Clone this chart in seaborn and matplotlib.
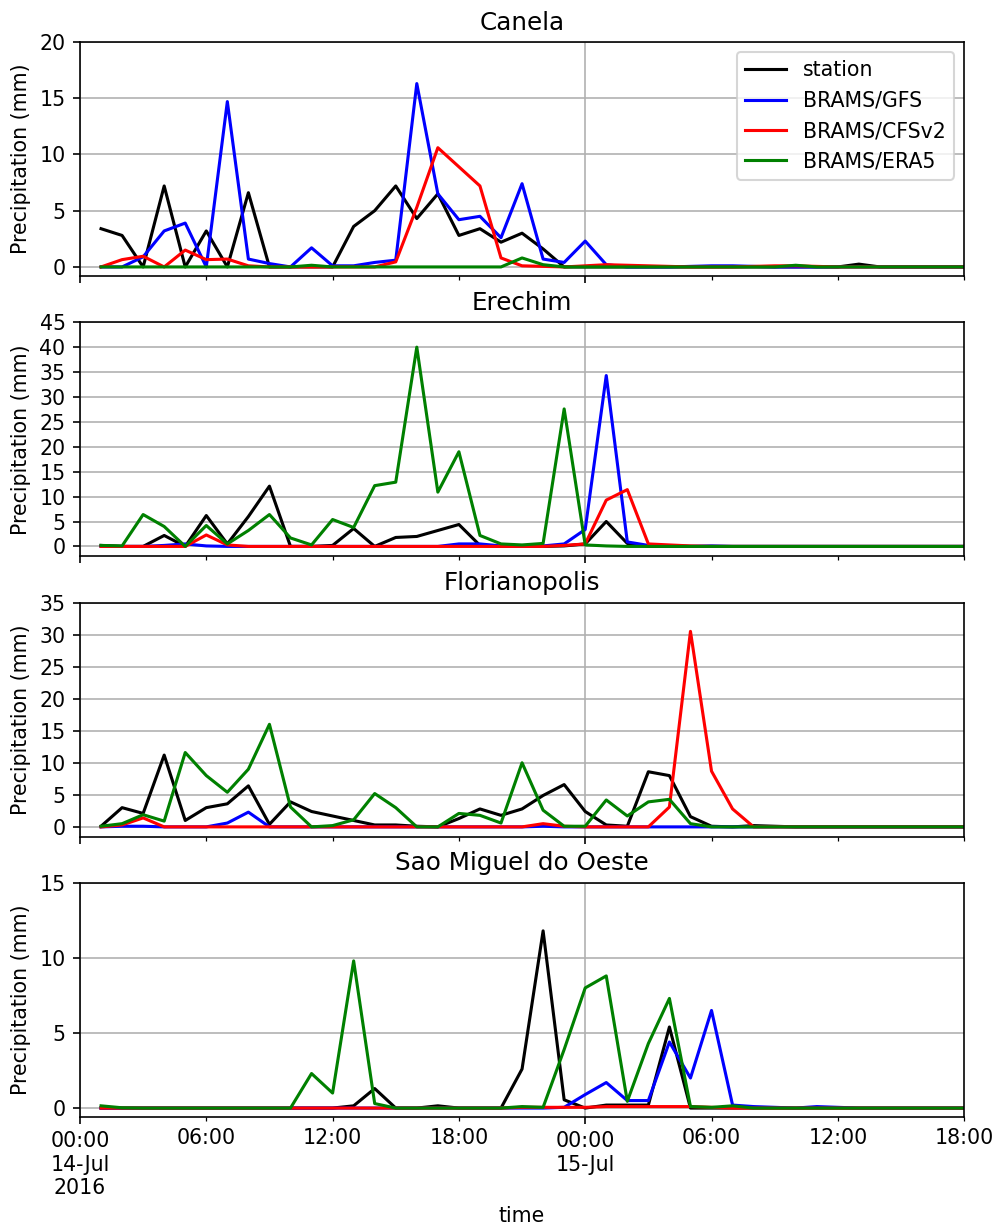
import numpy as np
import pandas as pd
import matplotlib
matplotlib.use("Agg")
import matplotlib.pyplot as plt
import matplotlib.dates as mdates
from matplotlib.ticker import FixedLocator, FixedFormatter
import seaborn as sns

# ---------------- data (hourly, 14-Jul 01:00 .. 15-Jul 18:00) ----------------
times = pd.date_range("2016-07-14 01:00", periods=42, freq="h")

series_names = ["station", "BRAMS/GFS", "BRAMS/CFSv2", "BRAMS/ERA5"]
series_colors = ["black", "blue", "red", "green"]

sites = ["Canela", "Erechim", "Florianopolis", "Sao Miguel do Oeste"]
y_tops = [20, 45, 35, 15]

canela_station = [3.4, 2.8, 0, 7.2, 0, 3.2, 0, 6.6, 0, 0, 0, 0, 3.6, 5.0, 7.2, 4.3, 6.5, 2.8, 3.4, 2.2, 3.0,
                  1.6, 0, 0, 0, 0, 0, 0, 0, 0, 0, 0, 0, 0, 0, 0, 0.25, 0, 0, 0, 0, 0]
canela_gfs = [0, 0, 0.9, 3.2, 3.9, 0, 14.7, 0.7, 0.3, 0, 1.7, 0.1, 0.1, 0.4, 0.6, 16.3, 6.5, 4.2, 4.5, 2.6, 7.4,
              0.7, 0.4, 2.3, 0.2, 0, 0, 0, 0.05, 0.1, 0.1, 0.05, 0, 0, 0, 0, 0, 0, 0, 0, 0, 0]
canela_cfs = [0, 0.65, 0.95, 0, 1.5, 0.65, 0.7, 0.1, 0, 0, 0, 0, 0, 0, 0.45, 5.3, 10.6, 8.9, 7.2, 0.8, 0.1,
              0.05, 0, 0.1, 0.2, 0.15, 0.1, 0.05, 0, 0, 0, 0.05, 0.1, 0.1, 0.05, 0, 0, 0, 0, 0, 0, 0]
canela_era5 = [0, 0, 0, 0, 0, 0, 0, 0, 0, 0, 0.15, 0, 0, 0, 0, 0, 0, 0, 0, 0, 0.8,
               0.2, 0, 0, 0, 0, 0, 0, 0, 0, 0, 0, 0, 0.15, 0, 0, 0, 0, 0, 0, 0, 0]

erechim_station = [0.2, 0, 0, 2.2, 0, 6.2, 0.5, 6.0, 12.1, 0, 0, 0.2, 3.6, 0, 1.8, 2.0, 3.2, 4.4, 0.2, 0, 0,
                   0, 0.1, 0.5, 5.0, 0.6, 0, 0, 0, 0, 0, 0, 0, 0, 0, 0, 0, 0, 0, 0, 0, 0]
erechim_gfs = [0, 0, 0, 0.2, 0.5, 0.1, 0, 0, 0, 0, 0, 0, 0, 0, 0, 0, 0, 0.5, 0.5, 0.1, 0,
               0.1, 0.5, 3.4, 34.3, 0.9, 0.2, 0.1, 0, 0.1, 0, 0, 0, 0, 0, 0, 0, 0, 0, 0, 0, 0]
erechim_cfs = [0, 0, 0, 0, 0, 2.3, 0.3, 0, 0, 0, 0, 0, 0, 0, 0, 0, 0, 0, 0, 0, 0,
               0, 0.2, 0.5, 9.3, 11.4, 0.5, 0.3, 0.1, 0, 0, 0, 0, 0, 0, 0, 0, 0, 0, 0, 0, 0]
erechim_era5 = [0.2, 0.1, 6.4, 4.0, 0, 4.2, 0.5, 3.2, 6.4, 1.7, 0.3, 5.4, 3.8, 12.2, 12.9, 40.0, 10.9, 19.0, 2.2,
                0.5, 0.3, 0.6, 27.6, 0.3, 0.1, 0, 0, 0, 0, 0, 0, 0, 0, 0, 0, 0, 0, 0, 0, 0, 0, 0]

flori_station = [0.1, 3.0, 2.1, 11.2, 1.0, 3.0, 3.6, 6.4, 0.4, 3.9, 2.4, 1.7, 1.0, 0.3, 0.3, 0.1, 0, 1.3, 2.8,
                 1.8, 2.8, 4.9, 6.6, 2.4, 0.3, 0.1, 8.6, 8.0, 1.6, 0.1, 0, 0.2, 0.1, 0, 0, 0, 0, 0, 0, 0, 0, 0]
flori_gfs = [0, 0.1, 0.1, 0, 0, 0, 0.6, 2.3, 0, 0, 0, 0, 0, 0, 0, 0, 0, 0, 0, 0, 0,
             0.1, 0, 0, 0, 0, 0, 0, 0, 0, 0, 0, 0, 0, 0, 0, 0, 0, 0, 0, 0, 0]
flori_cfs = [0, 0.3, 1.4, 0, 0, 0, 0, 0, 0, 0, 0, 0, 0, 0, 0, 0, 0, 0, 0, 0, 0,
             0.5, 0.1, 0, 0, 0, 0, 3.1, 30.5, 8.7, 2.8, 0, 0, 0, 0, 0, 0, 0, 0, 0, 0, 0]
flori_era5 = [0.1, 0.5, 1.9, 0.9, 11.6, 8.0, 5.4, 9.0, 16.0, 3.1, 0, 0.2, 1.1, 5.2, 3.0, 0, 0, 2.1, 1.8, 0.6,
              10.0, 2.6, 0.1, 0.1, 4.2, 1.7, 3.9, 4.3, 0.5, 0, 0, 0, 0, 0, 0, 0, 0, 0, 0, 0, 0, 0]

smo_station = [0, 0, 0, 0, 0, 0, 0, 0, 0, 0, 0, 0, 0.15, 1.3, 0, 0, 0.15, 0, 0, 0, 2.6,
               11.8, 0.55, 0, 0.2, 0.2, 0.2, 5.4, 0, 0, 0, 0, 0, 0, 0, 0, 0, 0, 0, 0, 0, 0]
smo_gfs = [0, 0, 0, 0, 0, 0, 0, 0, 0, 0, 0, 0, 0, 0, 0, 0, 0, 0, 0, 0, 0,
           0, 0.05, 0.9, 1.7, 0.5, 0.5, 4.4, 2.0, 6.5, 0.2, 0.1, 0.05, 0, 0.1, 0.05, 0, 0, 0, 0, 0, 0]
smo_cfs = [0, 0, 0, 0, 0, 0, 0, 0, 0, 0, 0, 0, 0, 0, 0, 0, 0, 0, 0, 0, 0.05,
           0.05, 0.05, 0.05, 0.1, 0.1, 0.1, 0.1, 0.1, 0.05, 0, 0, 0, 0, 0, 0, 0, 0, 0, 0, 0, 0]
smo_era5 = [0.15, 0.02, 0, 0, 0, 0, 0, 0, 0, 0, 2.3, 1.0, 9.8, 0.3, 0, 0, 0, 0, 0, 0, 0.1,
            0.05, 3.9, 8.0, 8.8, 0.45, 4.3, 7.3, 0.1, 0.05, 0.15, 0, 0, 0, 0, 0, 0, 0, 0, 0, 0, 0]

site_data = [
    [canela_station, canela_gfs, canela_cfs, canela_era5],
    [erechim_station, erechim_gfs, erechim_cfs, erechim_era5],
    [flori_station, flori_gfs, flori_cfs, flori_era5],
    [smo_station, smo_gfs, smo_cfs, smo_era5],
]

major_ticks = ["2016-07-14 00:00", "2016-07-15 00:00"]
major_labels = ["00:00\n14-Jul\n2016", "00:00\n15-Jul"]
minor_ticks = ["2016-07-14 06:00", "2016-07-14 12:00", "2016-07-14 18:00",
               "2016-07-15 06:00", "2016-07-15 12:00", "2016-07-15 18:00"]
minor_labels = ["06:00", "12:00", "18:00", "06:00", "12:00", "18:00"]

# ---------------- plotting ----------------
DPI = 148
fig, axes = plt.subplots(4, 1, sharex=True, figsize=(996 / DPI, 1227 / DPI), dpi=DPI)
fig.subplots_adjust(left=0.0803, right=0.968, top=0.9658, bottom=0.0897, hspace=0.197)

for k, (ax, site, data, ytop) in enumerate(zip(axes, sites, site_data, y_tops)):
    for name, color, vals in zip(series_names, series_colors, data):
        sns.lineplot(x=times, y=vals, color=color, label=name, ax=ax,
                     legend=(k == 0), linewidth=1.5)
    vmax = max(max(v) for v in data)
    ax.set_ylim(-0.05 * vmax, ytop)
    ax.set_yticks(np.arange(0, ytop + 1, 5))
    ax.set_title(site)
    ax.set_ylabel("Precipitation (mm)")
    ax.set_xlabel("")
    ax.grid(True)
    ax.set_axisbelow(True)

axes[0].legend(loc="upper right")

bottom = axes[-1]
bottom.set_xlim(mdates.date2num(pd.Timestamp("2016-07-14 00:00")),
                mdates.date2num(pd.Timestamp("2016-07-15 18:00")))
bottom.xaxis.set_major_locator(FixedLocator(mdates.date2num(pd.to_datetime(major_ticks))))
bottom.xaxis.set_major_formatter(FixedFormatter(major_labels))
bottom.xaxis.set_minor_locator(FixedLocator(mdates.date2num(pd.to_datetime(minor_ticks))))
bottom.xaxis.set_minor_formatter(FixedFormatter(minor_labels))
bottom.set_xlabel("time")
for ax in axes[:-1]:
    ax.tick_params(axis="x", which="both", labelbottom=False)

fig.savefig("out.png", dpi=DPI)
